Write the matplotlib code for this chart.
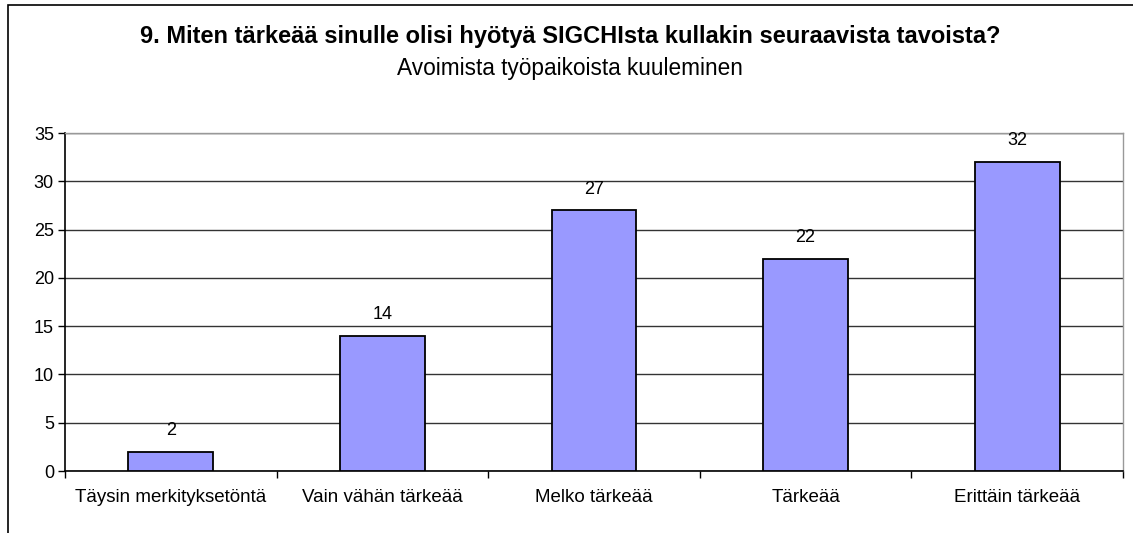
import matplotlib.pyplot as plt
from matplotlib.patches import Rectangle
import numpy as np

categories = ["Täysin merkityksetöntä", "Vain vähän tärkeää", "Melko tärkeää",
              "Tärkeää", "Erittäin tärkeää"]
values = [2, 14, 27, 22, 32]
yticks = [0, 5, 10, 15, 20, 25, 30, 35]

plt.rcParams['font.family'] = ['Liberation Sans', 'DejaVu Sans']

fig = plt.figure(figsize=(11.33, 5.33), dpi=100)
ax = fig.add_axes([65/1133, 1-471/533, (1123-65)/1133, (471-133)/533])

x = np.arange(len(categories))
ax.bar(x, values, width=0.4, color='#9999ff', edgecolor='black', linewidth=1.3, zorder=3)
for xi, v in zip(x, values):
    ax.annotate(str(v), (xi, v), xytext=(0, 9), textcoords='offset points',
                ha='center', va='bottom', fontsize=13)

ax.set_xlim(-0.5, len(categories) - 0.5)
ax.set_ylim(0, 35)
ax.set_yticks(yticks)
ax.tick_params(axis='y', labelsize=13, length=5, width=1, direction='out', pad=3)
ax.set_xticks(x)
ax.set_xticklabels(categories, fontsize=13.5)
ax.tick_params(axis='x', length=0, pad=13)
ax.set_xticks(np.arange(len(categories) + 1) - 0.5, minor=True)
ax.tick_params(axis='x', which='minor', length=5, width=1, direction='out')
ax.yaxis.grid(True, color='#333333', linewidth=1, zorder=0)
ax.set_axisbelow(True)
for s in ['top', 'right']:
    ax.spines[s].set_color('#999999')
    ax.spines[s].set_linewidth(1)
for s in ['left', 'bottom']:
    ax.spines[s].set_color('black')
    ax.spines[s].set_linewidth(1.2)

fig.text(0.503, 1-36/533, "9. Miten tärkeää sinulle olisi hyötyä SIGCHIsta kullakin seuraavista tavoista?",
         ha='center', va='center', fontsize=17, fontweight='bold')
fig.text(0.503, 1-68/533, "Avoimista työpaikoista kuuleminen", ha='center', va='center', fontsize=16.3)

fig.patches.append(Rectangle((7.5/1133, -0.2), 1.2, 1.2 - 4.5/533,
                             transform=fig.transFigure, fill=False,
                             edgecolor='black', linewidth=1.2, clip_on=False))

fig.savefig('out.png', dpi=100)
